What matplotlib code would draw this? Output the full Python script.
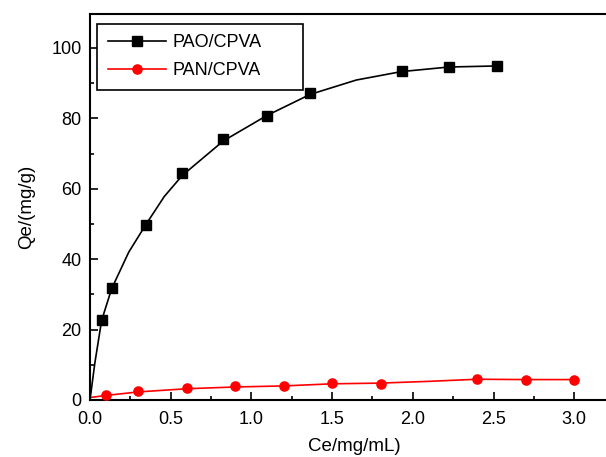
import matplotlib
matplotlib.use("Agg")
import matplotlib.pyplot as plt
from matplotlib.ticker import MultipleLocator

plt.rcParams['font.family'] = ['Liberation Sans', 'DejaVu Sans']

# PAO/CPVA data points
pao_x = [0.072, 0.134, 0.347, 0.572, 0.826, 1.095, 1.363, 1.93, 2.224, 2.52]
pao_y = [22.6, 31.9, 49.8, 64.6, 74.1, 80.6, 87.1, 93.6, 94.7, 94.9]
# PAO/CPVA fitted curve
pao_fit_x = [0.0, 0.03, 0.072, 0.134, 0.24, 0.347, 0.46, 0.572, 0.826, 1.095, 1.363, 1.65, 1.93, 2.224, 2.52]
pao_fit_y = [0.0, 10.5, 22.6, 31.6, 42.0, 49.9, 57.8, 63.8, 73.6, 80.8, 86.8, 90.9, 93.3, 94.6, 94.9]

# PAN/CPVA data points
pan_x = [0.1, 0.3, 0.6, 0.9, 1.2, 1.5, 1.8, 2.4, 2.7, 3.0]
pan_y = [1.3, 2.5, 3.3, 3.9, 3.9, 4.9, 4.5, 6.1, 5.7, 5.8]
# PAN/CPVA fitted curve
pan_fit_x = [0.0, 0.1, 0.3, 0.6, 0.9, 1.2, 1.5, 1.8, 2.1, 2.4, 2.7, 3.0]
pan_fit_y = [0.7, 1.3, 2.3, 3.2, 3.7, 4.0, 4.6, 4.8, 5.3, 5.9, 5.8, 5.8]

xticks = [0.0, 0.5, 1.0, 1.5, 2.0, 2.5, 3.0]
xtick_labels = ['0.0', '0.5', '1.0', '1.5', '2.0', '2.5', '3.0']
yticks = [0, 20, 40, 60, 80, 100]

W, H = 606, 457
fig = plt.figure(figsize=(W / 100, H / 100), dpi=100)
left_px, right_px, top_px, bottom_px = 90, 618, 14, 400
ax = fig.add_axes([left_px / W, 1 - bottom_px / H, (right_px - left_px) / W, (bottom_px - top_px) / H])

ax.plot(pao_fit_x, pao_fit_y, color='black', lw=1.2, zorder=2)
ax.plot(pao_x, pao_y, ls='none', marker='s', ms=6.6, color='black', zorder=3)
ax.plot(pan_fit_x, pan_fit_y, color='red', lw=1.2, zorder=2)
ax.plot(pan_x, pan_y, ls='none', marker='o', ms=6.6, color='red', zorder=3)

# legend proxies
ax.plot([], [], color='black', lw=1.2, marker='s', ms=6.6, label='PAO/CPVA')
ax.plot([], [], color='red', lw=1.2, marker='o', ms=6.6, label='PAN/CPVA')
handles, labels = ax.get_legend_handles_labels()
leg = ax.legend(handles, labels, loc='upper left',
                bbox_to_anchor=(97 / W, 1 - 24 / H, 206 / W, 0.001),
                bbox_transform=fig.transFigure, mode='expand',
                fontsize=13, frameon=True, fancybox=False, framealpha=1,
                edgecolor='black', borderpad=0.6, labelspacing=0.6,
                handlelength=3.2, handletextpad=0.4, borderaxespad=0)
leg.get_frame().set_linewidth(1.2)

ax.set_xlim(0, (right_px - left_px) / 161.4)
ax.set_ylim(0, (bottom_px - top_px) / 3.52)
ax.set_xticks(xticks)
ax.set_xticklabels(xtick_labels)
ax.set_yticks(yticks)
ax.xaxis.set_minor_locator(MultipleLocator(0.25))
ax.yaxis.set_minor_locator(MultipleLocator(10))
ax.tick_params(which='both', direction='in', labelsize=13, width=1.2)
ax.tick_params(which='major', length=6)
ax.tick_params(which='minor', length=3)
ax.tick_params(axis='x', which='major', pad=8)
ax.tick_params(axis='y', which='major', pad=6)
for s in ax.spines.values():
    s.set_linewidth(1.5)

ax.set_xlabel('Ce/mg/mL)', fontsize=13.5, labelpad=7)
ax.set_ylabel('Qe/(mg/g)', fontsize=13.5, labelpad=12)

fig.savefig('out.png', dpi=100)
